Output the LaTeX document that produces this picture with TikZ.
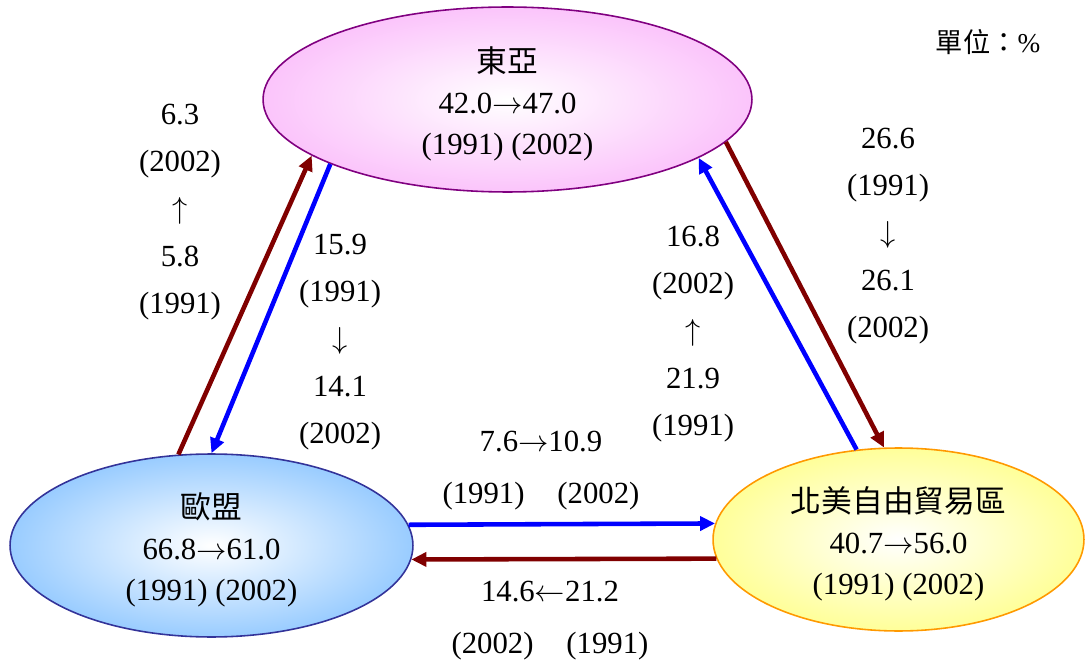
\documentclass[tikz,border=0pt]{standalone}
\usepackage{fontspec}
\setmainfont{Liberation Serif}
\newfontfamily\cjk{Noto Sans CJK TC}
\usetikzlibrary{arrows.meta,shapes.geometric}
\definecolor{eaedge}{HTML}{800080}
\definecolor{eafill}{HTML}{FBC4FB}
\definecolor{euedge}{HTML}{333399}
\definecolor{eufill}{HTML}{99CCFF}
\definecolor{naedge}{HTML}{FF9900}
\definecolor{nafill}{HTML}{FFFF99}
\definecolor{flowred}{HTML}{800000}
\definecolor{flowblue}{HTML}{0000FF}
\newcommand\ra{${\rightarrow}$}
\newcommand\la{${\leftarrow}$}
\newcommand\ua{$\uparrow$}
\newcommand\da{$\downarrow$}
\tikzset{
  every node/.style={font=\fontsize{17.5}{23.3}\selectfont},
  bloc/.style={ellipse,line width=0.9pt,inner sep=0pt,align=center,
               font=\fontsize{17.5}{23.3}\selectfont},
  eabloc/.style={bloc,draw=eaedge,inner color=white,outer color=eafill},
  eubloc/.style={bloc,draw=euedge,inner color=white,outer color=eufill},
  nabloc/.style={bloc,draw=naedge,inner color=white,outer color=nafill},
  ar/.style={-{Triangle[length=0.3cm,width=0.28cm]},line width=2.6pt},
  redar/.style={ar,draw=flowred},
  bluear/.style={ar,draw=flowblue},
  lab/.style={align=center,inner sep=0pt,font=\fontsize{17.5}{27}\selectfont},
  unit/.style={inner sep=0pt,font=\fontsize{15.5}{18}\selectfont},
}
\begin{document}
\begin{tikzpicture}[x=0.02cm,y=-0.02cm]
\useasboundingbox (0,0) rectangle (1085,665);
% three blocs
\node[eabloc,minimum width=9.78cm,minimum height=3.70cm] (eastasia) at (507.5,99.5)
 {\rule{0pt}{0.68cm}{\cjk 東亞}\\42.0\ra47.0\\(1991) (2002)};
\node[eubloc,minimum width=8.06cm,minimum height=3.66cm] (eu) at (211.5,545.5)
 {\rule{0pt}{0.68cm}{\cjk 歐盟}\\66.8\ra61.0\\(1991) (2002)};
\node[nabloc,minimum width=7.42cm,minimum height=3.66cm] (nafta) at (898.5,539.5)
 {\rule{0pt}{0.7cm}{\cjk 北美自由貿易區}\\40.7\ra56.0\\(1991) (2002)};
% flows
\draw[redar] (eu.110.5) -- (eastasia.196);
\draw[bluear] (eastasia.200.7) -- (eu.90);
\draw[redar] (eastasia.349) -- (nafta.99);
\draw[bluear] (nafta.115.5) -- (eastasia.343.5);
\draw[bluear] (eu.6) -- (nafta.175.4);
\draw[redar] (nafta.186.1) -- (eu.356.1);
% shares
\node[lab] (euup) at (180,212) {6.3\\(2002)\\\ua\\5.8\\(1991)};
\node[lab] (eadown) at (340,342) {15.9\\(1991)\\\da\\14.1\\(2002)};
\node[lab] (naup) at (693,334) {16.8\\(2002)\\\ua\\21.9\\(1991)};
\node[lab] (nadown) at (888,236) {26.6\\(1991)\\\da\\26.1\\(2002)};
\node[lab] (toright) at (541,471) {7.6\ra10.9\\[2.6pt](1991)\hspace{0.66cm}(2002)};
\node[lab] (toleft) at (550,621) {14.6\la21.2\\[2.6pt](2002)\hspace{0.66cm}(1991)};
\node[unit] (unitlab) at (988,42) {{\cjk 單位：}\%};
\end{tikzpicture}
\end{document}
